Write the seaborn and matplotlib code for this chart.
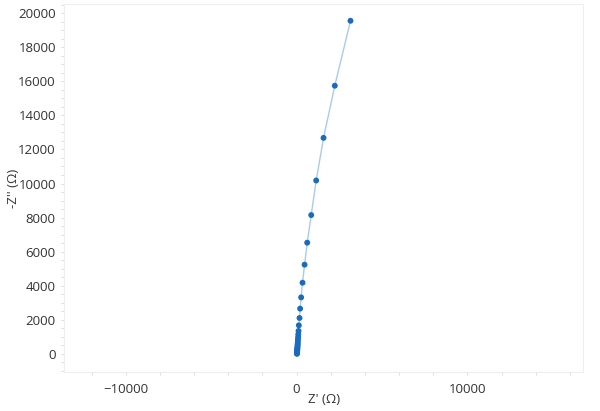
import numpy as np
import pandas as pd
import matplotlib
matplotlib.use("Agg")
import matplotlib.pyplot as plt
import seaborn as sns
from matplotlib.ticker import MultipleLocator

sns.set_theme(style="white")
plt.rcParams['font.family'] = ['Open Sans', 'DejaVu Sans']

# Nyquist data (ohm)
z_real = [23, 25, 27, 29, 32, 35, 38, 42, 46, 51, 56, 62, 68, 75, 82, 90, 100,
          117, 135, 175, 210, 270, 350, 470, 625, 860, 1150, 1580, 2240, 3158]
z_imag = [10, 30, 55, 85, 120, 160, 205, 255, 310, 370, 440, 520, 610, 720, 840, 980, 1150,
          1350, 1680, 2110, 2660, 3320, 4180, 5240, 6530, 8150, 10180, 12680, 15740, 19550]

df = pd.DataFrame({"zr": z_real, "zi": z_imag})

fig = plt.figure(figsize=(6, 4.11), dpi=100)
ax = fig.add_axes([0.107, 0.095, 0.865, 0.895])

sns.lineplot(data=df, x="zr", y="zi", ax=ax, sort=False, color="#a9cbee", linewidth=1.0)
sns.scatterplot(data=df, x="zr", y="zi", ax=ax, color="#1a6bbf", s=18, edgecolor="none", zorder=3)

ax.set_xlim(-13600, 16780)
ax.set_ylim(-1056, 20528)
ax.xaxis.set_major_locator(MultipleLocator(10000))
ax.xaxis.set_minor_locator(MultipleLocator(2000))
ax.yaxis.set_major_locator(MultipleLocator(2000))
ax.yaxis.set_minor_locator(MultipleLocator(500))

ax.tick_params(which="both", bottom=True, left=True, length=2, width=0.6,
               color="#d8d8d8", direction="out")
ax.tick_params(which="major", labelsize=9.5, labelcolor="#333333", pad=4)
ax.tick_params(axis="x", which="major", pad=6)

for sp in ax.spines.values():
    sp.set_color("#eeeeee")
    sp.set_linewidth(0.8)

ax.set_xlabel("Z' (Ω)", fontsize=9.5, color="#333333")
ax.set_ylabel("-Z'' (Ω)", fontsize=9.5, color="#333333")
ax.xaxis.set_label_coords(0.5, -0.057)
ax.yaxis.set_label_coords(-0.085, 0.5)

fig.savefig("out.png", dpi=100)
